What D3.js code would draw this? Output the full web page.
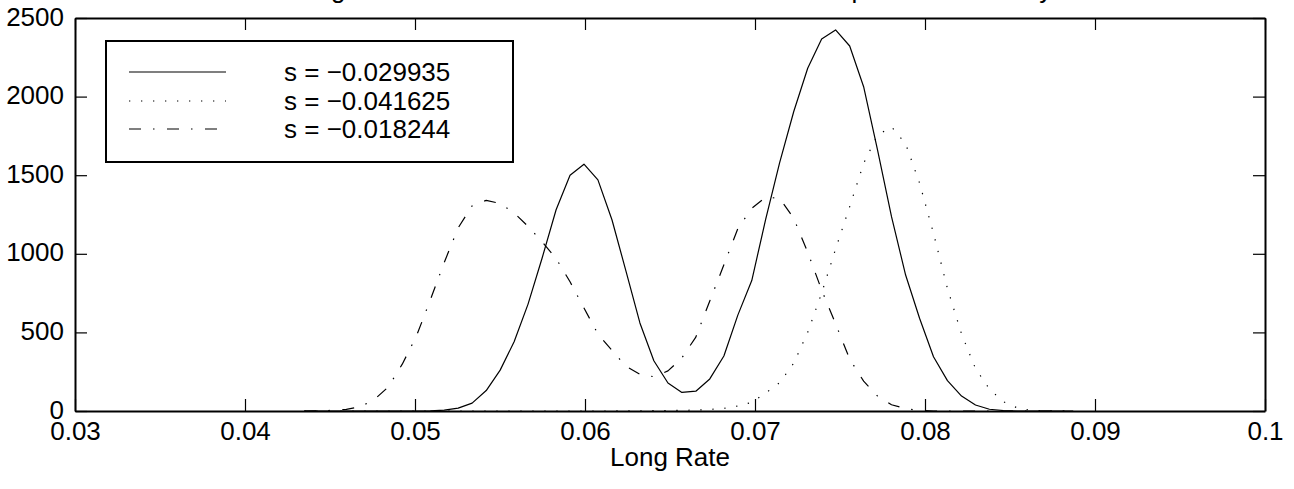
<!DOCTYPE html>
<html>
<head>
<meta charset="utf-8">
<script src="https://cdn.jsdelivr.net/npm/d3@7"></script>
<style>
  html, body { margin: 0; padding: 0; background: #fff; }
  svg { display: block; }
  text { font-family: "Liberation Sans", Arial, Helvetica, sans-serif; fill: #000; }
</style>
</head>
<body>
<svg id="chart" width="1294" height="489"></svg>
<script>
// ---- data ----
const longRate = [
  0.04349, 0.04432, 0.04514, 0.04596, 0.04678, 0.04761, 0.04843, 0.04925, 0.05007, 0.05090,
  0.05172, 0.05254, 0.05336, 0.05419, 0.05501, 0.05583, 0.05665, 0.05747, 0.05830, 0.05912,
  0.05994, 0.06076, 0.06159, 0.06241, 0.06323, 0.06405, 0.06488, 0.06570, 0.06652, 0.06734,
  0.06817, 0.06899, 0.06981, 0.07063, 0.07145, 0.07228, 0.07310, 0.07392, 0.07474, 0.07557,
  0.07639, 0.07721, 0.07803, 0.07886, 0.07968, 0.08050, 0.08132, 0.08215, 0.08297, 0.08379,
  0.08461, 0.08543, 0.08626, 0.08708, 0.08790, 0.08872
];
const densitySolid = [
  0, 0, 0, 0, 0, 0, 0, 0, 0, 1,
  5, 18, 50, 130, 260, 440, 680, 970, 1280, 1500,
  1570, 1470, 1215, 890, 560, 320, 178, 118, 126, 204,
  350, 610, 830, 1220, 1580, 1905, 2180, 2366, 2424, 2322,
  2063, 1660, 1236, 865, 590, 345, 193, 95, 38, 11,
  3, 0, 0, 0, 0, 0
];
const densityDotted = [
  0, 0, 0, 0, 0, 0, 0, 0, 0, 0,
  0, 0, 0, 0, 0, 0, 0, 0, 0, 0,
  0, 0, 0, 1, 1, 2, 3, 4, 6, 10,
  17, 32, 55, 115, 180, 305, 500, 750, 1030, 1300,
  1575, 1755, 1808, 1700, 1450, 1130, 780, 490, 270, 140,
  59, 20, 4, 1, 0, 0
];
const densityDashDot = [
  0, 1, 4, 10, 27, 73, 153, 298, 473, 706,
  945, 1165, 1305, 1340, 1320, 1260, 1175, 1077, 970, 822,
  655, 490, 385, 284, 233, 218, 255, 338, 470, 700,
  930, 1160, 1290, 1360, 1353, 1225, 1010, 770, 555, 330,
  190, 95, 40, 15, 3, 0, 0, 0, 0, 0,
  0, 0, 0, 0, 0, 0
];
const seriesLabels = ["s = \u22120.029935", "s = \u22120.041625", "s = \u22120.018244"];
const xTicks = [0.03, 0.04, 0.05, 0.06, 0.07, 0.08, 0.09, 0.1];
const xTickLabels = ["0.03", "0.04", "0.05", "0.06", "0.07", "0.08", "0.09", "0.1"];
const yTicks = [0, 500, 1000, 1500, 2000, 2500];
const yTickLabels = ["0", "500", "1000", "1500", "2000", "2500"];
const xLabel = "Long Rate";
const titleText = "Long Rate Densities Conditional on the Initial Slope at the Maturity";

// ---- layout ----
const FONT = 26;
const plotL = 75, plotR = 1265, plotT = 18, plotB = 411;
const svg = d3.select("#chart");

const x = d3.scaleLinear().domain([0.03, 0.1]).range([plotL, plotR]);
const y = d3.scaleLinear().domain([0, 2500]).range([plotB, plotT]);

const styles = [
  { dash: null },
  { dash: "1.3,10.7" },
  { dash: "12,12,1.5,12.5" }
];
const series = [densitySolid, densityDotted, densityDashDot];

// title (mostly above the visible area, as in the reference)
svg.append("text")
  .attr("x", (plotL + plotR) / 2).attr("y", -2)
  .attr("text-anchor", "middle")
  .style("font-size", FONT + "px")
  .text(titleText);

// clip
svg.append("defs").append("clipPath").attr("id", "plotclip")
  .append("rect").attr("x", plotL).attr("y", plotT - 2).attr("width", plotR - plotL).attr("height", plotB - plotT + 2);

const line = d3.line().x((d, i) => x(longRate[i])).y(d => y(d));
const g = svg.append("g").attr("clip-path", "url(#plotclip)");
series.forEach((s, i) => {
  g.append("path")
    .datum(s)
    .attr("d", line)
    .attr("fill", "none")
    .attr("stroke", "#000")
    .attr("stroke-width", 1.2)
    .attr("stroke-dasharray", styles[i].dash)
    .attr("stroke-linejoin", "round");
});

// axes
const fmtX = d => xTickLabels[xTicks.indexOf(d)];
const fmtY = d => yTickLabels[yTicks.indexOf(d)];
const axB = svg.append("g").attr("transform", `translate(0,${plotB})`)
  .call(d3.axisBottom(x).tickValues(xTicks).tickFormat(fmtX).tickSizeInner(-12).tickSizeOuter(0).tickPadding(11));
const axT = svg.append("g").attr("transform", `translate(0,${plotT})`)
  .call(d3.axisTop(x).tickValues(xTicks).tickFormat("").tickSizeInner(-12).tickSizeOuter(0));
const axL = svg.append("g").attr("transform", `translate(${plotL},0)`)
  .call(d3.axisLeft(y).tickValues(yTicks).tickFormat(fmtY).tickSizeInner(-12).tickSizeOuter(0).tickPadding(11));
const axR = svg.append("g").attr("transform", `translate(${plotR},0)`)
  .call(d3.axisRight(y).tickValues(yTicks).tickFormat("").tickSizeInner(-12).tickSizeOuter(0));
[axB, axT, axL, axR].forEach(a => {
  a.select(".domain").attr("stroke", "#000").attr("stroke-width", 2);
  a.selectAll(".tick line").attr("stroke", "#000").attr("stroke-width", 1.2);
  a.selectAll("text").style("font-size", FONT + "px").attr("fill", "#000").style("font-family", '"Liberation Sans", Arial, sans-serif');
});
axL.selectAll("text").attr("dy", "0.27em");

// x label
svg.append("text")
  .attr("x", (plotL + plotR) / 2).attr("y", 466)
  .attr("text-anchor", "middle")
  .style("font-size", FONT + "px")
  .text(xLabel);

// legend
const lg = svg.append("g");
lg.append("rect").attr("x", 106).attr("y", 41).attr("width", 407).attr("height", 121)
  .attr("fill", "#fff").attr("stroke", "#000").attr("stroke-width", 2);
const rowY = [72, 101, 129];
seriesLabels.forEach((lab, i) => {
  lg.append("line").attr("x1", 129).attr("x2", 226).attr("y1", rowY[i]).attr("y2", rowY[i])
    .attr("stroke", "#000").attr("stroke-width", 1.2).attr("stroke-dasharray", styles[i].dash);
  lg.append("text").attr("x", 284).attr("y", rowY[i]).attr("dy", "0.36em")
    .style("font-size", FONT + "px").text(lab);
});
</script>
</body>
</html>
